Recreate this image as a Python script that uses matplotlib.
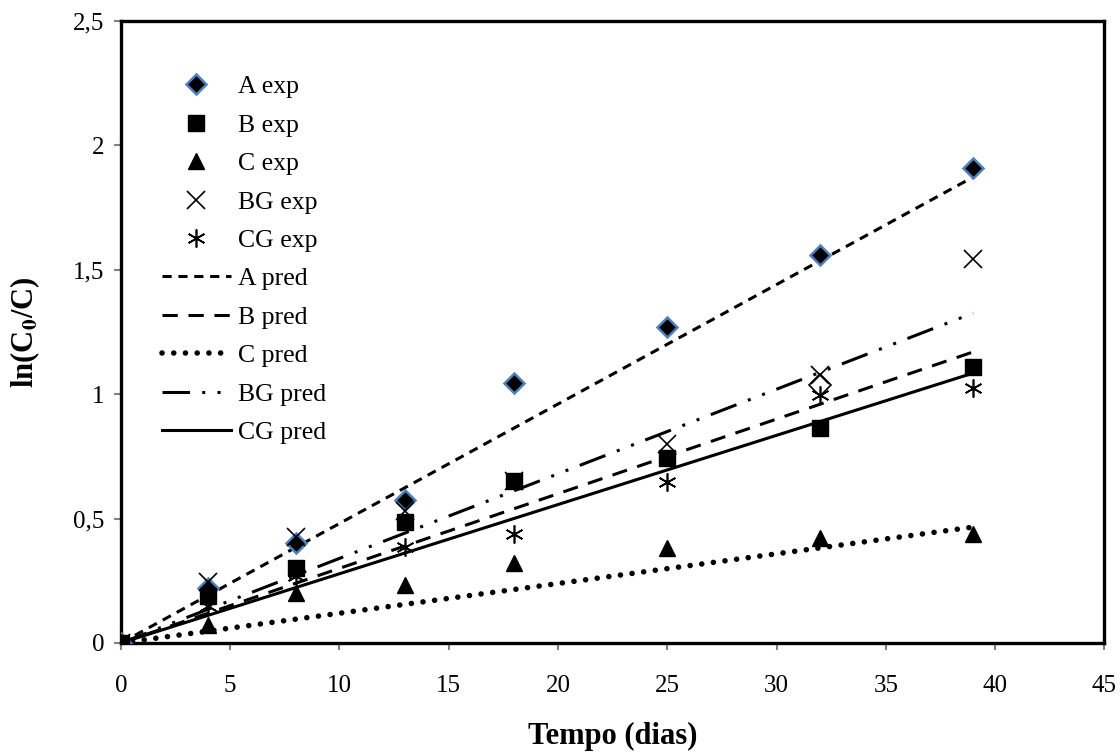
import numpy as np
import matplotlib.pyplot as plt
from matplotlib.ticker import FuncFormatter

plt.rcParams['font.family'] = ['Liberation Serif', 'DejaVu Serif']
plt.rcParams['mathtext.fontset'] = 'stix'

# tempo (dias)
t = [0, 4, 8, 13, 18, 25, 32, 39]

# experimental ln(C0/C)
a_exp = [0, 0.22, 0.40, 0.575, 1.045, 1.27, 1.56, 1.91]
b_exp = [0, 0.19, 0.30, 0.486, 0.65, 0.743, 0.864, 1.11]
c_exp = [0, 0.072, 0.20, 0.233, 0.32, 0.38, 0.42, 0.44]
bg_exp = [0, 0.245, 0.425, 0.53, 0.65, 0.80, 1.077, 1.545]
cg_exp = [0, 0.15, 0.27, 0.386, 0.44, 0.647, 0.997, 1.025]

# stray hollow diamond at t=32
extra_t = [32]
extra_y = [1.035]

# predicted lines (endpoints)
t_pred = [0, 39]
a_pred = [0, 1.873]
b_pred = [0, 1.17]
c_pred = [0, 0.466]
bg_pred = [0, 1.326]
cg_pred = [0, 1.085]

fig = plt.figure(figsize=(11.2, 7.52), dpi=100)
ax = fig.add_axes([0.108, 0.145, 0.878, 0.827])

ax.plot(t, a_exp, 'D', color='black', mec='#4F81BD', mew=1.8, ms=10.5, label='A exp', zorder=5)
ax.plot(t, b_exp, 's', color='black', ms=12, label='B exp', zorder=5)
ax.plot(t, c_exp, '^', color='black', ms=12, label='C exp', zorder=5)
ax.plot(t, bg_exp, 'x', color='black', ms=12.5, mew=1.2, label='BG exp', zorder=5)
ax.plot(t, cg_exp, marker=(6, 2, 0), ls='none', color='black', ms=13, mew=1.2, label='CG exp', zorder=5)
ax.plot(extra_t, extra_y, 'D', mfc='white', mec='black', mew=1.2, ms=11, zorder=4)

lw = 2.2
ax.plot(t_pred, a_pred, color='black', lw=lw, ls=(0, (3, 2.2)), label='A pred')
ax.plot(t_pred, b_pred, color='black', lw=lw, ls=(0, (5, 3.5)), label='B pred')
ax.plot(t_pred, c_pred, color='black', lw=4, ls=(0, (0.01, 2.1)), dash_capstyle='round', label='C pred')
ax.plot(t_pred, bg_pred, color='black', lw=lw, ls=(0, (9, 4, 1, 4, 1, 4)), label='BG pred')
ax.plot(t_pred, cg_pred, color='black', lw=lw, ls='-', label='CG pred')

ax.set_xlim(0, 45)
ax.set_ylim(0, 2.5)
ax.set_xticks(range(0, 46, 5))
ax.set_yticks([0, 0.5, 1, 1.5, 2, 2.5])
ax.yaxis.set_major_formatter(FuncFormatter(lambda v, p: ('%g' % v).replace('.', ',')))
ax.tick_params(labelsize=18, direction='out', length=5, width=1.5, color='#808080', labelcolor='black')
ax.tick_params(axis='x', pad=18)
ax.tick_params(axis='y', pad=7)
for s in ax.spines.values():
    s.set_linewidth(2.4)
    s.set_color('black')

ax.set_xlabel('Tempo (dias)', fontsize=22, fontweight='bold', labelpad=18)
ax.set_ylabel('ln(C$_\\mathbf{0}$/C)', fontsize=22, fontweight='bold', labelpad=22)

ax.legend(loc='upper left', bbox_to_anchor=(0.031, 0.929), frameon=False, fontsize=18.5,
          handlelength=2.7, labelspacing=0.6, handletextpad=0.25, borderaxespad=0)

fig.savefig('out.png', dpi=100)
